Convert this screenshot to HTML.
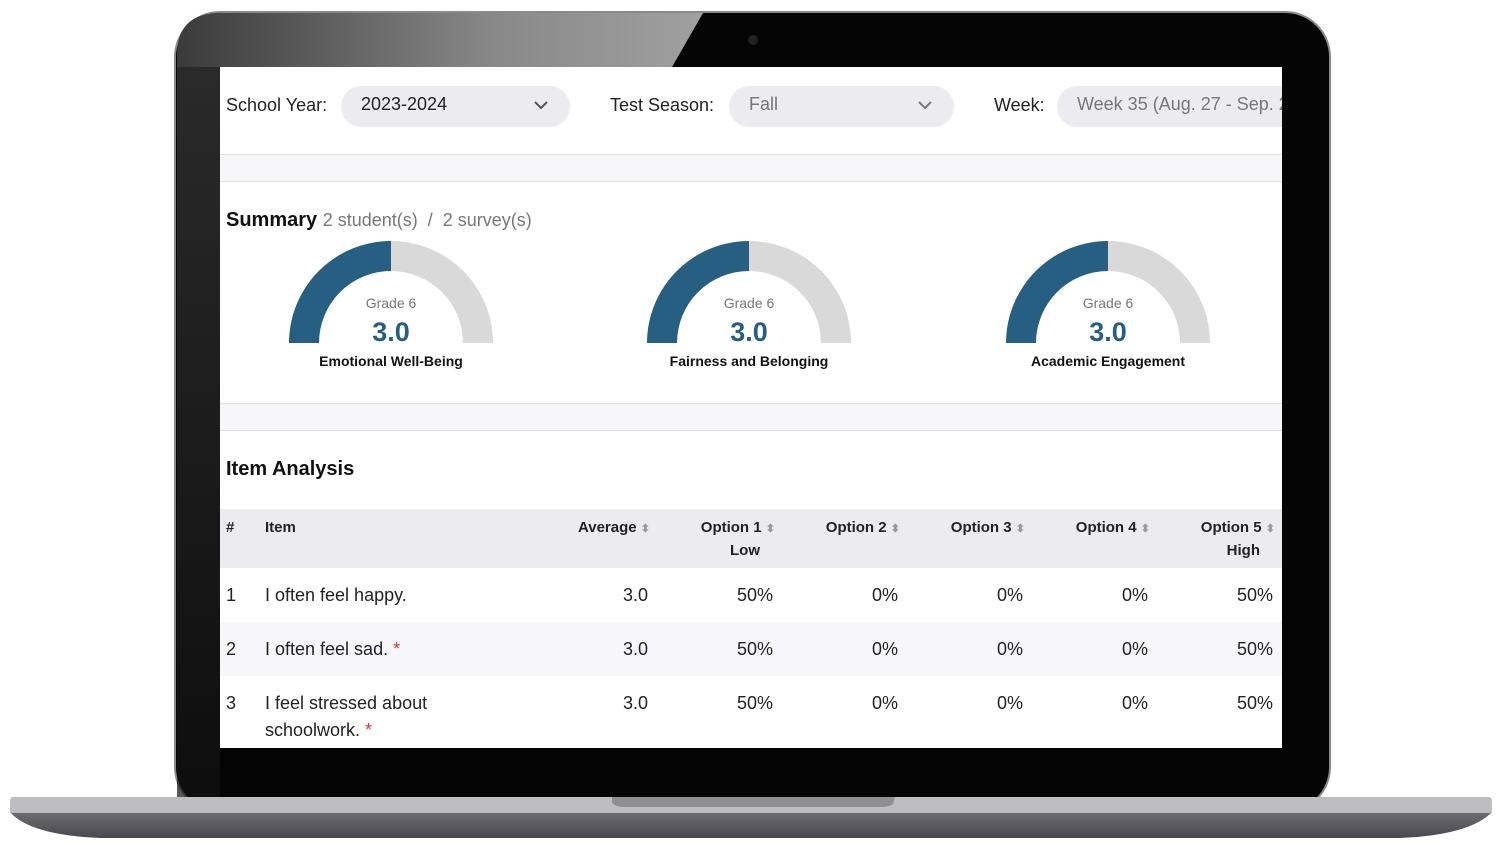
<!DOCTYPE html>
<html><head><meta charset="utf-8"><style>
*{margin:0;padding:0;box-sizing:border-box}
body{width:1500px;height:853px;background:#fff;position:relative;overflow:hidden;font-family:"Liberation Sans",sans-serif;color:#111}
.a{position:absolute;white-space:nowrap}
.sel{position:absolute;height:41px;border-radius:21px;background:#ececf0;font-size:18px;color:#222;padding:8px 20px;white-space:nowrap}
.th{font-weight:bold;font-size:15px;color:#222}
.td{font-size:18px;color:#222}
.arr{color:#999;font-size:11px}
</style></head><body>
<svg class="a" style="left:0;top:0" width="1500" height="853">
<defs>
<linearGradient id="bz" x1="0" y1="0" x2="1" y2="0">
<stop offset="0" stop-color="#3a3a3a"/><stop offset="0.6" stop-color="#888"/><stop offset="1" stop-color="#a0a0a0"/></linearGradient>
<linearGradient id="lb" x1="0" y1="0" x2="0" y2="1">
<stop offset="0" stop-color="#3a3a3a"/><stop offset="1" stop-color="#111"/></linearGradient>
<linearGradient id="base" x1="0" y1="0" x2="0" y2="1"><stop offset="0" stop-color="#6c6c72"/><stop offset="1" stop-color="#48484e"/></linearGradient>
</defs>
<rect x="175" y="12" width="1155" height="800" rx="45" fill="#050505" stroke="#8a8a8a" stroke-width="2"/>
<path d="M177,67 L220,67 L220,797 L177,797 Z" fill="url(#lb)" opacity="0.7"/>
<path d="M220,13 L703,13 L672,67 L177,67 L177,55 Q177,13 220,13 Z" fill="url(#bz)"/>
<circle cx="753" cy="40" r="5" fill="#222"/>
<path d="M10,812 L1492,812 Q1470,835 1400,838 L100,838 Q30,835 10,812 Z" fill="url(#base)"/>
<rect x="10" y="797" width="1482" height="16" rx="3" fill="#bdbdc2"/>
<path d="M612,797 L895,797 L893,804 Q890,807 880,807 L625,807 Q614,807 612,802 Z" fill="#8e8e93"/>
<rect x="220" y="67" width="1062" height="681" fill="#fff"/>
<rect x="220" y="154" width="1062" height="27" fill="#f7f7f9"/>
<line x1="220" y1="154.5" x2="1282" y2="154.5" stroke="#e2e2e6"/>
<line x1="220" y1="181.5" x2="1282" y2="181.5" stroke="#e2e2e6"/>
<rect x="220" y="403" width="1062" height="27" fill="#f7f7f9"/>
<line x1="220" y1="403.5" x2="1282" y2="403.5" stroke="#e2e2e6"/>
<line x1="220" y1="430.5" x2="1282" y2="430.5" stroke="#e2e2e6"/>
<rect x="220" y="509" width="1062" height="59" fill="#ececf0"/>
<rect x="220" y="622" width="1062" height="54" fill="#f7f7f9"/>
<g id="g1">
<path d="M289,343 A102,102 0 0 1 391,241 L391,271 A72,72 0 0 0 319,343 Z" fill="#275f82"/>
<path d="M391,241 A102,102 0 0 1 493,343 L463,343 A72,72 0 0 0 391,271 Z" fill="#d9d9d9"/>
</g>
<use href="#g1" x="358"/>
<use href="#g1" x="717"/>
</svg>
<div class="a td" style="left:226px;top:95px">School Year:</div>
<div class="sel" style="left:341px;top:86px;width:229px">2023-2024</div>
<div class="a td" style="left:610px;top:95px">Test Season:</div>
<div class="sel" style="left:729px;top:86px;width:225px;color:#777">Fall</div>
<div class="a td" style="left:994px;top:95px">Week:</div>
<div class="sel" style="left:1057px;top:86px;width:225px;color:#777;border-radius:21px 0 0 21px;overflow:hidden">Week 35 (Aug. 27 - Sep. 2</div>
<svg class="a" style="left:0;top:0" width="1500" height="853">
<path d="M535,102 l6,6 l6,-6" stroke="#555" stroke-width="2" fill="none"/>
<path d="M919,102 l6,6 l6,-6" stroke="#777" stroke-width="2" fill="none"/>
</svg>
<div class="a" style="left:226px;top:209px;font-size:20px;font-weight:bold">Summary <span style="font-weight:normal;color:#777;font-size:18px">2 student(s) &nbsp;/ &nbsp;2 survey(s)</span></div>
<div class="a" style="left:291px;top:295px;width:200px;text-align:center;font-size:14px;color:#777">Grade 6</div>
<div class="a" style="left:291px;top:317px;width:200px;text-align:center;font-size:27px;font-weight:bold;color:#275f82">3.0</div>
<div class="a" style="left:241px;top:353px;width:300px;text-align:center;font-size:14px;font-weight:bold">Emotional Well-Being</div>
<div class="a" style="left:649px;top:295px;width:200px;text-align:center;font-size:14px;color:#777">Grade 6</div>
<div class="a" style="left:649px;top:317px;width:200px;text-align:center;font-size:27px;font-weight:bold;color:#275f82">3.0</div>
<div class="a" style="left:599px;top:353px;width:300px;text-align:center;font-size:14px;font-weight:bold">Fairness and Belonging</div>
<div class="a" style="left:1008px;top:295px;width:200px;text-align:center;font-size:14px;color:#777">Grade 6</div>
<div class="a" style="left:1008px;top:317px;width:200px;text-align:center;font-size:27px;font-weight:bold;color:#275f82">3.0</div>
<div class="a" style="left:958px;top:353px;width:300px;text-align:center;font-size:14px;font-weight:bold">Academic Engagement</div>
<div class="a" style="left:226px;top:458px;font-size:20px;font-weight:bold">Item Analysis</div>
<div class="a th" style="left:226px;top:519px">#</div>
<div class="a th" style="left:265px;top:519px">Item</div>
<div class="a th" style="left:450px;top:519px;width:200px;text-align:right">Average <span class="arr">⬍</span></div>
<div class="a th" style="left:575px;top:519px;width:200px;text-align:right">Option 1 <span class="arr">⬍</span></div>
<div class="a th" style="left:560px;top:542px;width:200px;text-align:right">Low</div>
<div class="a th" style="left:700px;top:519px;width:200px;text-align:right">Option 2 <span class="arr">⬍</span></div>
<div class="a th" style="left:825px;top:519px;width:200px;text-align:right">Option 3 <span class="arr">⬍</span></div>
<div class="a th" style="left:950px;top:519px;width:200px;text-align:right">Option 4 <span class="arr">⬍</span></div>
<div class="a th" style="left:1075px;top:519px;width:200px;text-align:right">Option 5 <span class="arr">⬍</span></div>
<div class="a th" style="left:1060px;top:542px;width:200px;text-align:right">High</div>
<div class="a td" style="left:226px;top:585px">1</div><div class="a td" style="left:265px;top:585px">I often feel happy.</div>
<div class="a td" style="left:226px;top:639px">2</div><div class="a td" style="left:265px;top:639px">I often feel sad. <span style="color:#d33">*</span></div>
<div class="a td" style="left:226px;top:693px">3</div><div class="a td" style="left:265px;top:693px">I feel stressed about</div><div class="a td" style="left:265px;top:720px">schoolwork. <span style="color:#d33">*</span></div>
<div class="a td" style="left:448px;top:585px;width:200px;text-align:right">3.0</div><div class="a td" style="left:573px;top:585px;width:200px;text-align:right">50%</div><div class="a td" style="left:698px;top:585px;width:200px;text-align:right">0%</div><div class="a td" style="left:823px;top:585px;width:200px;text-align:right">0%</div><div class="a td" style="left:948px;top:585px;width:200px;text-align:right">0%</div><div class="a td" style="left:1073px;top:585px;width:200px;text-align:right">50%</div>
<div class="a td" style="left:448px;top:639px;width:200px;text-align:right">3.0</div><div class="a td" style="left:573px;top:639px;width:200px;text-align:right">50%</div><div class="a td" style="left:698px;top:639px;width:200px;text-align:right">0%</div><div class="a td" style="left:823px;top:639px;width:200px;text-align:right">0%</div><div class="a td" style="left:948px;top:639px;width:200px;text-align:right">0%</div><div class="a td" style="left:1073px;top:639px;width:200px;text-align:right">50%</div>
<div class="a td" style="left:448px;top:693px;width:200px;text-align:right">3.0</div><div class="a td" style="left:573px;top:693px;width:200px;text-align:right">50%</div><div class="a td" style="left:698px;top:693px;width:200px;text-align:right">0%</div><div class="a td" style="left:823px;top:693px;width:200px;text-align:right">0%</div><div class="a td" style="left:948px;top:693px;width:200px;text-align:right">0%</div><div class="a td" style="left:1073px;top:693px;width:200px;text-align:right">50%</div>
</body></html>
